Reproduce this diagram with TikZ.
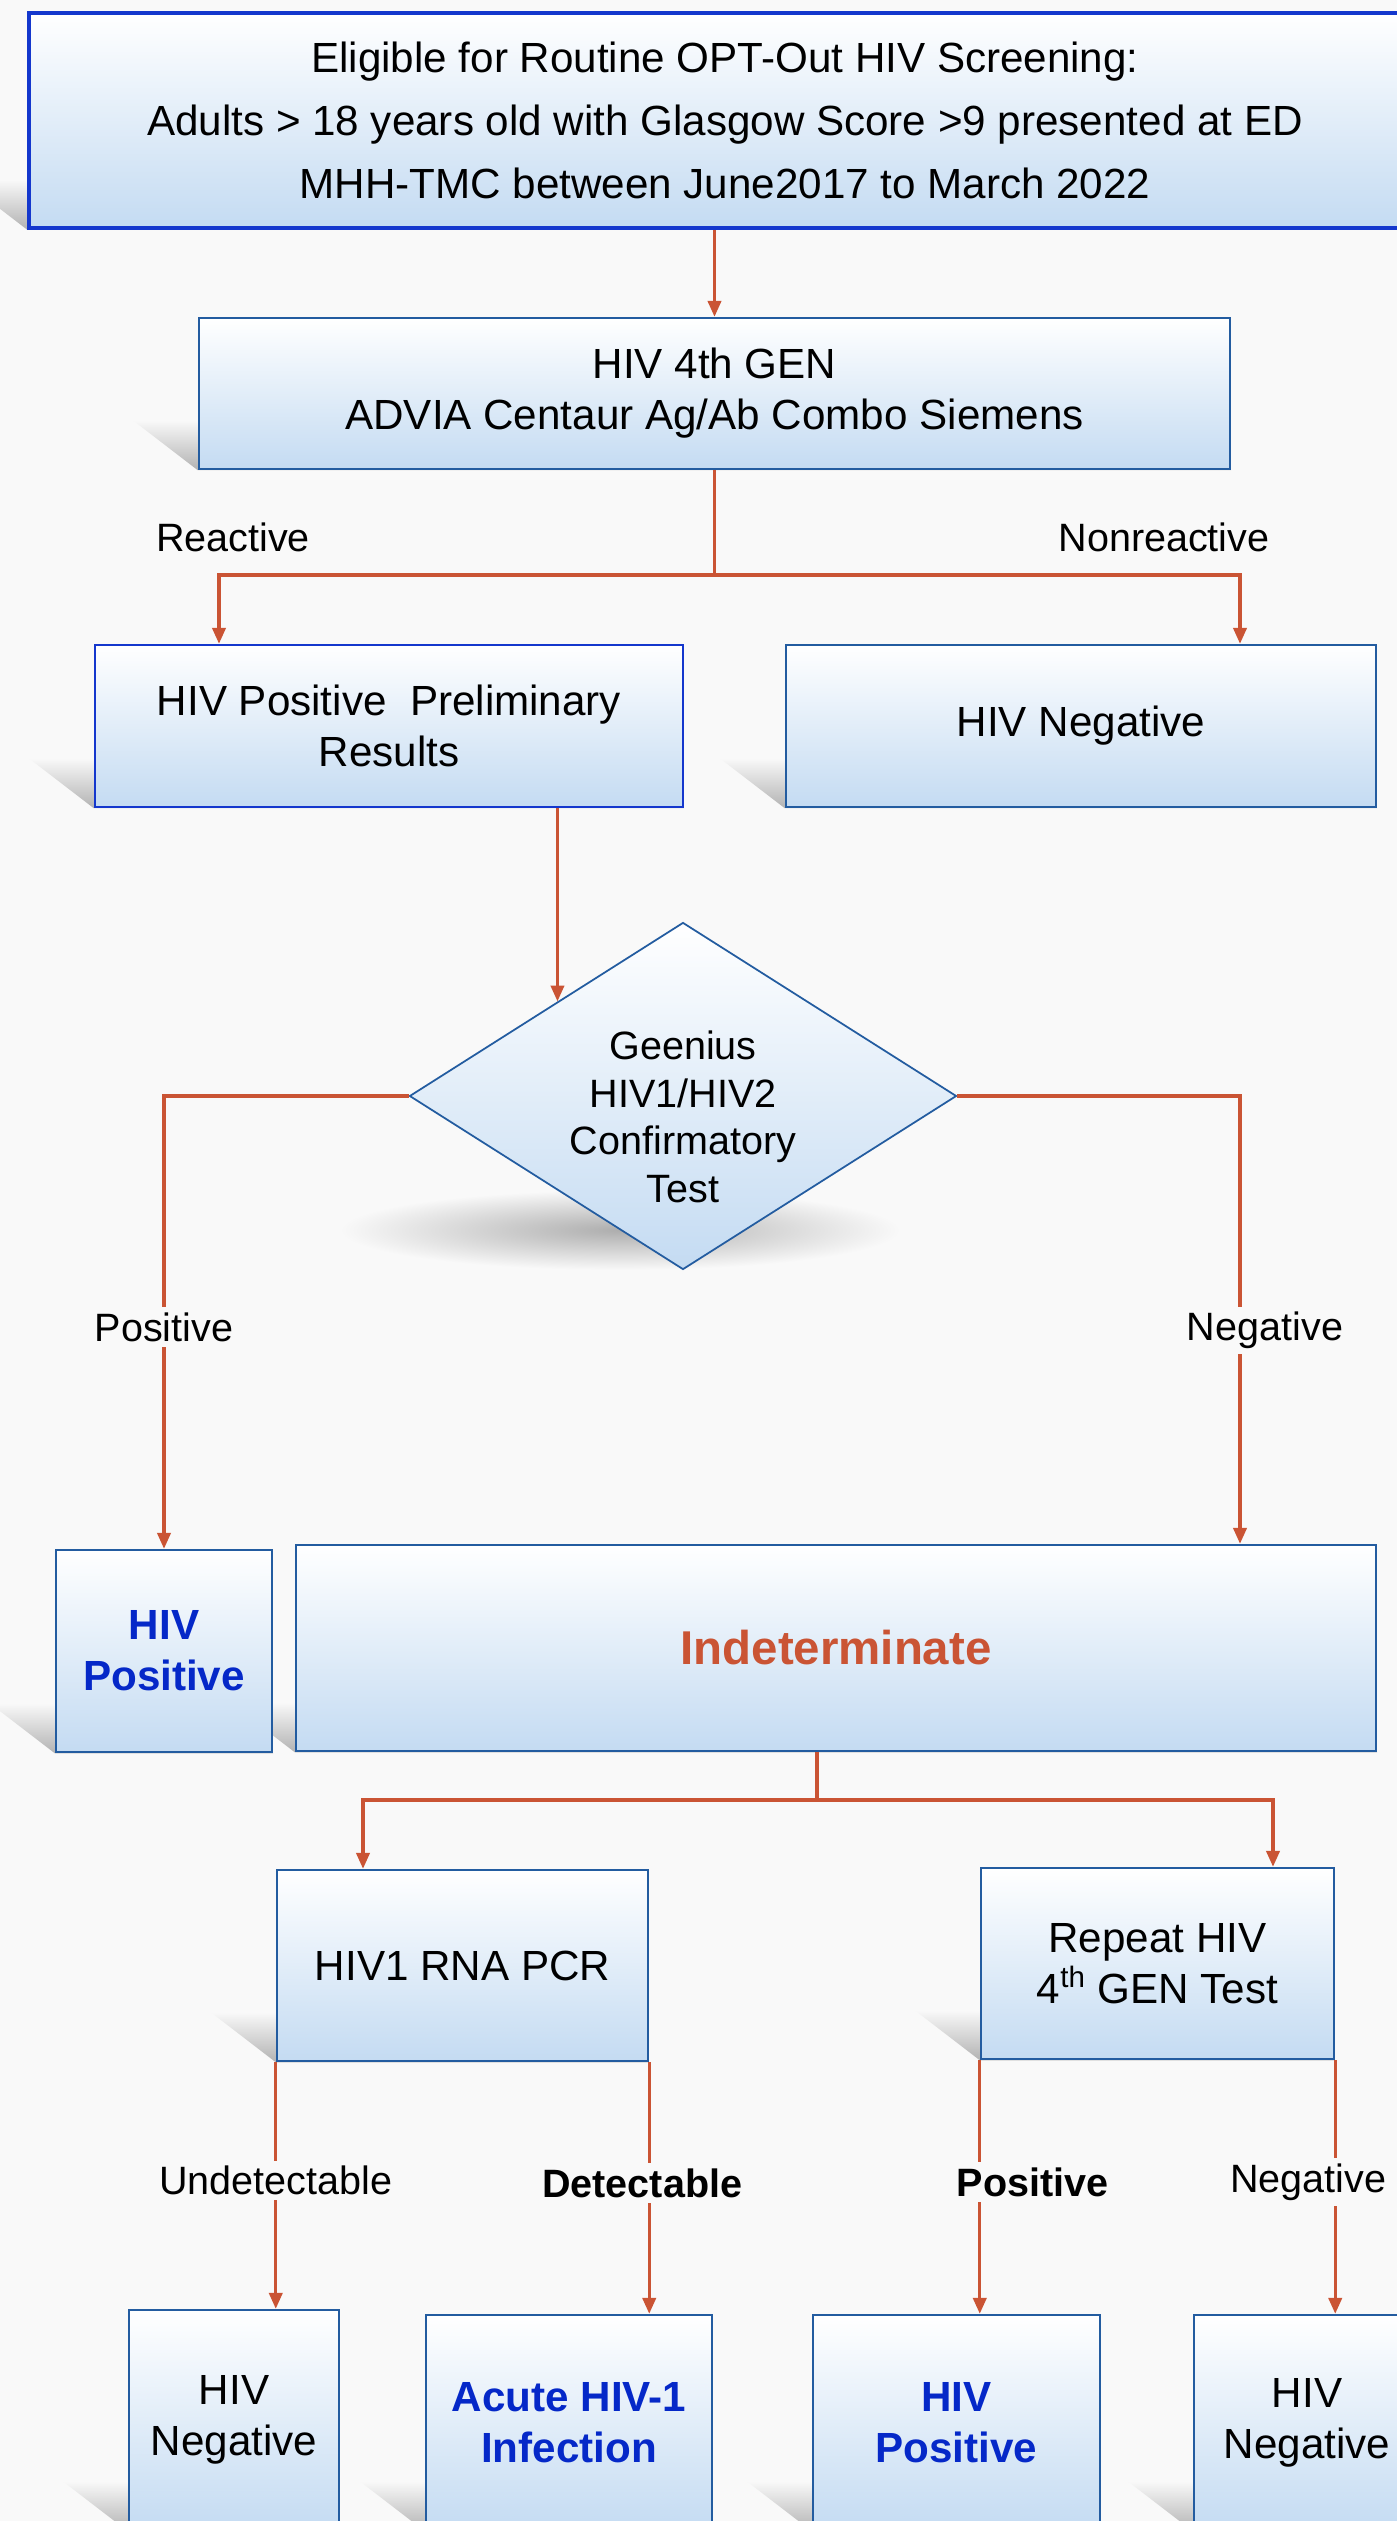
\documentclass[tikz,border=0pt]{standalone}
\usepackage{fontspec}
\setmainfont{Liberation Sans}
\usetikzlibrary{arrows.meta,shapes.geometric}
\definecolor{bgcol}{RGB}{249,249,249}
\definecolor{lowblue}{RGB}{196,219,242}
\definecolor{midblue}{RGB}{224,236,249}
\definecolor{edgea}{RGB}{20,55,205}
\definecolor{edgeb}{RGB}{35,92,160}
\definecolor{arrcol}{RGB}{202,84,52}
\definecolor{txtblue}{RGB}{5,40,200}
\pgfdeclarelayer{back}
\pgfsetlayers{back,main}
\begin{document}
\begin{tikzpicture}[x=1cm,y=1cm,
  box/.style={draw=edgeb, line width=1.4pt, top color=white, middle color=midblue, bottom color=lowblue, align=center, inner sep=0pt, font=\fontsize{24}{29}\selectfont},
  arr/.style={draw=arrcol, line width=1.8pt, -{Triangle[length=9pt,width=7.5pt]}},
  lin/.style={draw=arrcol, line width=2.2pt},
  lbl/.style={fill=bgcol, inner sep=3pt, font=\fontsize{22.5}{27}\selectfont}]
\useasboundingbox (0,0) rectangle (27.94,-50.42);
\node[box, draw=edgea, line width=2pt, minimum width=27.84cm, minimum height=4.3cm, font=\fontsize{24}{36}\selectfont] (a) at (14.5,-2.41) {Eligible for Routine OPT-Out HIV Screening:\\Adults {>} 18 years old with Glasgow Score {>}9 presented at ED\\MHH-TMC between June2017 to March 2022};
\node[box, minimum width=20.62cm, minimum height=3.02cm] (b) at (14.29,-7.87) {HIV 4th GEN\\ADVIA Centaur Ag/Ab Combo Siemens};
\node[box, draw=edgea, minimum width=11.76cm, minimum height=3.24cm] (c) at (7.78,-14.52) {HIV Positive\ \ Preliminary\\Results};
\node[box, minimum width=11.8cm, minimum height=3.24cm] (d) at (21.62,-14.52) {HIV Negative};
\node[box, diamond, shape aspect=1.58, line width=1pt, minimum width=10.94cm, minimum height=6.94cm, text height=121pt, inner ysep=-12pt, font=\fontsize{22.5}{27}\selectfont] (e) at (13.66,-21.92) {Geenius\\HIV1/HIV2\\Confirmatory\\Test};
\node[box, minimum width=4.32cm, minimum height=4.04cm, text=txtblue, font=\fontsize{24}{29}\selectfont\bfseries] (f) at (3.28,-33.02) {HIV\\Positive};
\node[box, minimum width=21.6cm, minimum height=4.12cm, text=arrcol, font=\fontsize{27}{32}\selectfont\bfseries] (g) at (16.72,-32.96) {Indeterminate};
\node[box, minimum width=7.42cm, minimum height=3.82cm] (h) at (9.25,-39.31) {HIV1 RNA PCR};
\node[box, minimum width=7.06cm, minimum height=3.82cm] (i) at (23.15,-39.27) {Repeat HIV\\4\textsuperscript{th} GEN Test};
\node[box, minimum width=4.2cm, minimum height=4.4cm] (j) at (4.68,-48.4) {HIV\\Negative};
\node[box, minimum width=5.72cm, minimum height=4.3cm, text=txtblue, font=\fontsize{24}{29}\selectfont\bfseries] (k) at (11.38,-48.45) {Acute HIV-1\\Infection};
\node[box, minimum width=5.74cm, minimum height=4.3cm, text=txtblue, font=\fontsize{24}{29}\selectfont\bfseries] (l) at (19.13,-48.45) {HIV\\Positive};
\node[box, minimum width=4.52cm, minimum height=4.3cm] (m) at (26.14,-48.45) {HIV\\Negative};
\node[lbl, fill=none] (r1) at (4.66,-10.74) {Reactive};
\node[lbl, fill=none] (r2) at (23.28,-10.74) {Nonreactive};
\coordinate (s1) at (b.south |- 0,-11.5);
\coordinate (s2) at (16.34,-36.0);
\draw[arr] (a.south -| b.north) -- (b.north);
\draw[lin] (b.south) -- (s1);
\draw[arr] (s1) -| (c.north -| 4.38,0);
\draw[arr] (s1) -| (d.north -| 24.8,0);
\draw[arr] (c.south -| e.143.5) -- (e.143.5);
\draw[arr] (e.west) -| node[lbl, pos=0.755] (p1) {Positive} (f.north);
\draw[arr] (e.east) -| node[lbl, pos=0.762, xshift=0.5cm] (n1) {Negative} (g.north -| 24.8,0);
\draw[lin] (g.south -| s2) -- (s2);
\draw[arr] (s2) -| (h.north -| 7.26,0);
\draw[arr] (s2) -| (i.north -| 25.46,0);
\draw[arr] (h.south west) -- node[lbl, pos=0.48] (u1) {Undetectable} (h.south west |- j.north);
\draw[arr] (h.south east) -- node[lbl, pos=0.48, xshift=-0.14cm, font=\fontsize{22.5}{27}\selectfont\bfseries] (d1) {Detectable} (h.south east |- k.north);
\draw[arr] (i.south west) -- node[lbl, pos=0.48, xshift=1.06cm, font=\fontsize{22.5}{27}\selectfont\bfseries] (p2) {Positive} (i.south west |- l.north);
\draw[arr] (i.south east) -- node[lbl, pos=0.48, xshift=-0.54cm] (n2) {Negative} (i.south east |- m.north);
\begin{pgfonlayer}{back}
\fill[bgcol] (0,0) rectangle (27.94,-50.42);
\foreach \n in {a,b,c,d,f,g,h,i,j,k,l,m}
  \shade[top color=bgcol, bottom color=black!30] (\n.south west) -- ++(-1.3,1.0) -- ([xshift=-1.3cm,yshift=1.0cm]\n.south east) -- (\n.south east) -- cycle;
\shade[inner color=black!32, outer color=bgcol] (12.4,-24.6) ellipse (5.6 and 0.8);
\end{pgfonlayer}
\end{tikzpicture}
\end{document}
